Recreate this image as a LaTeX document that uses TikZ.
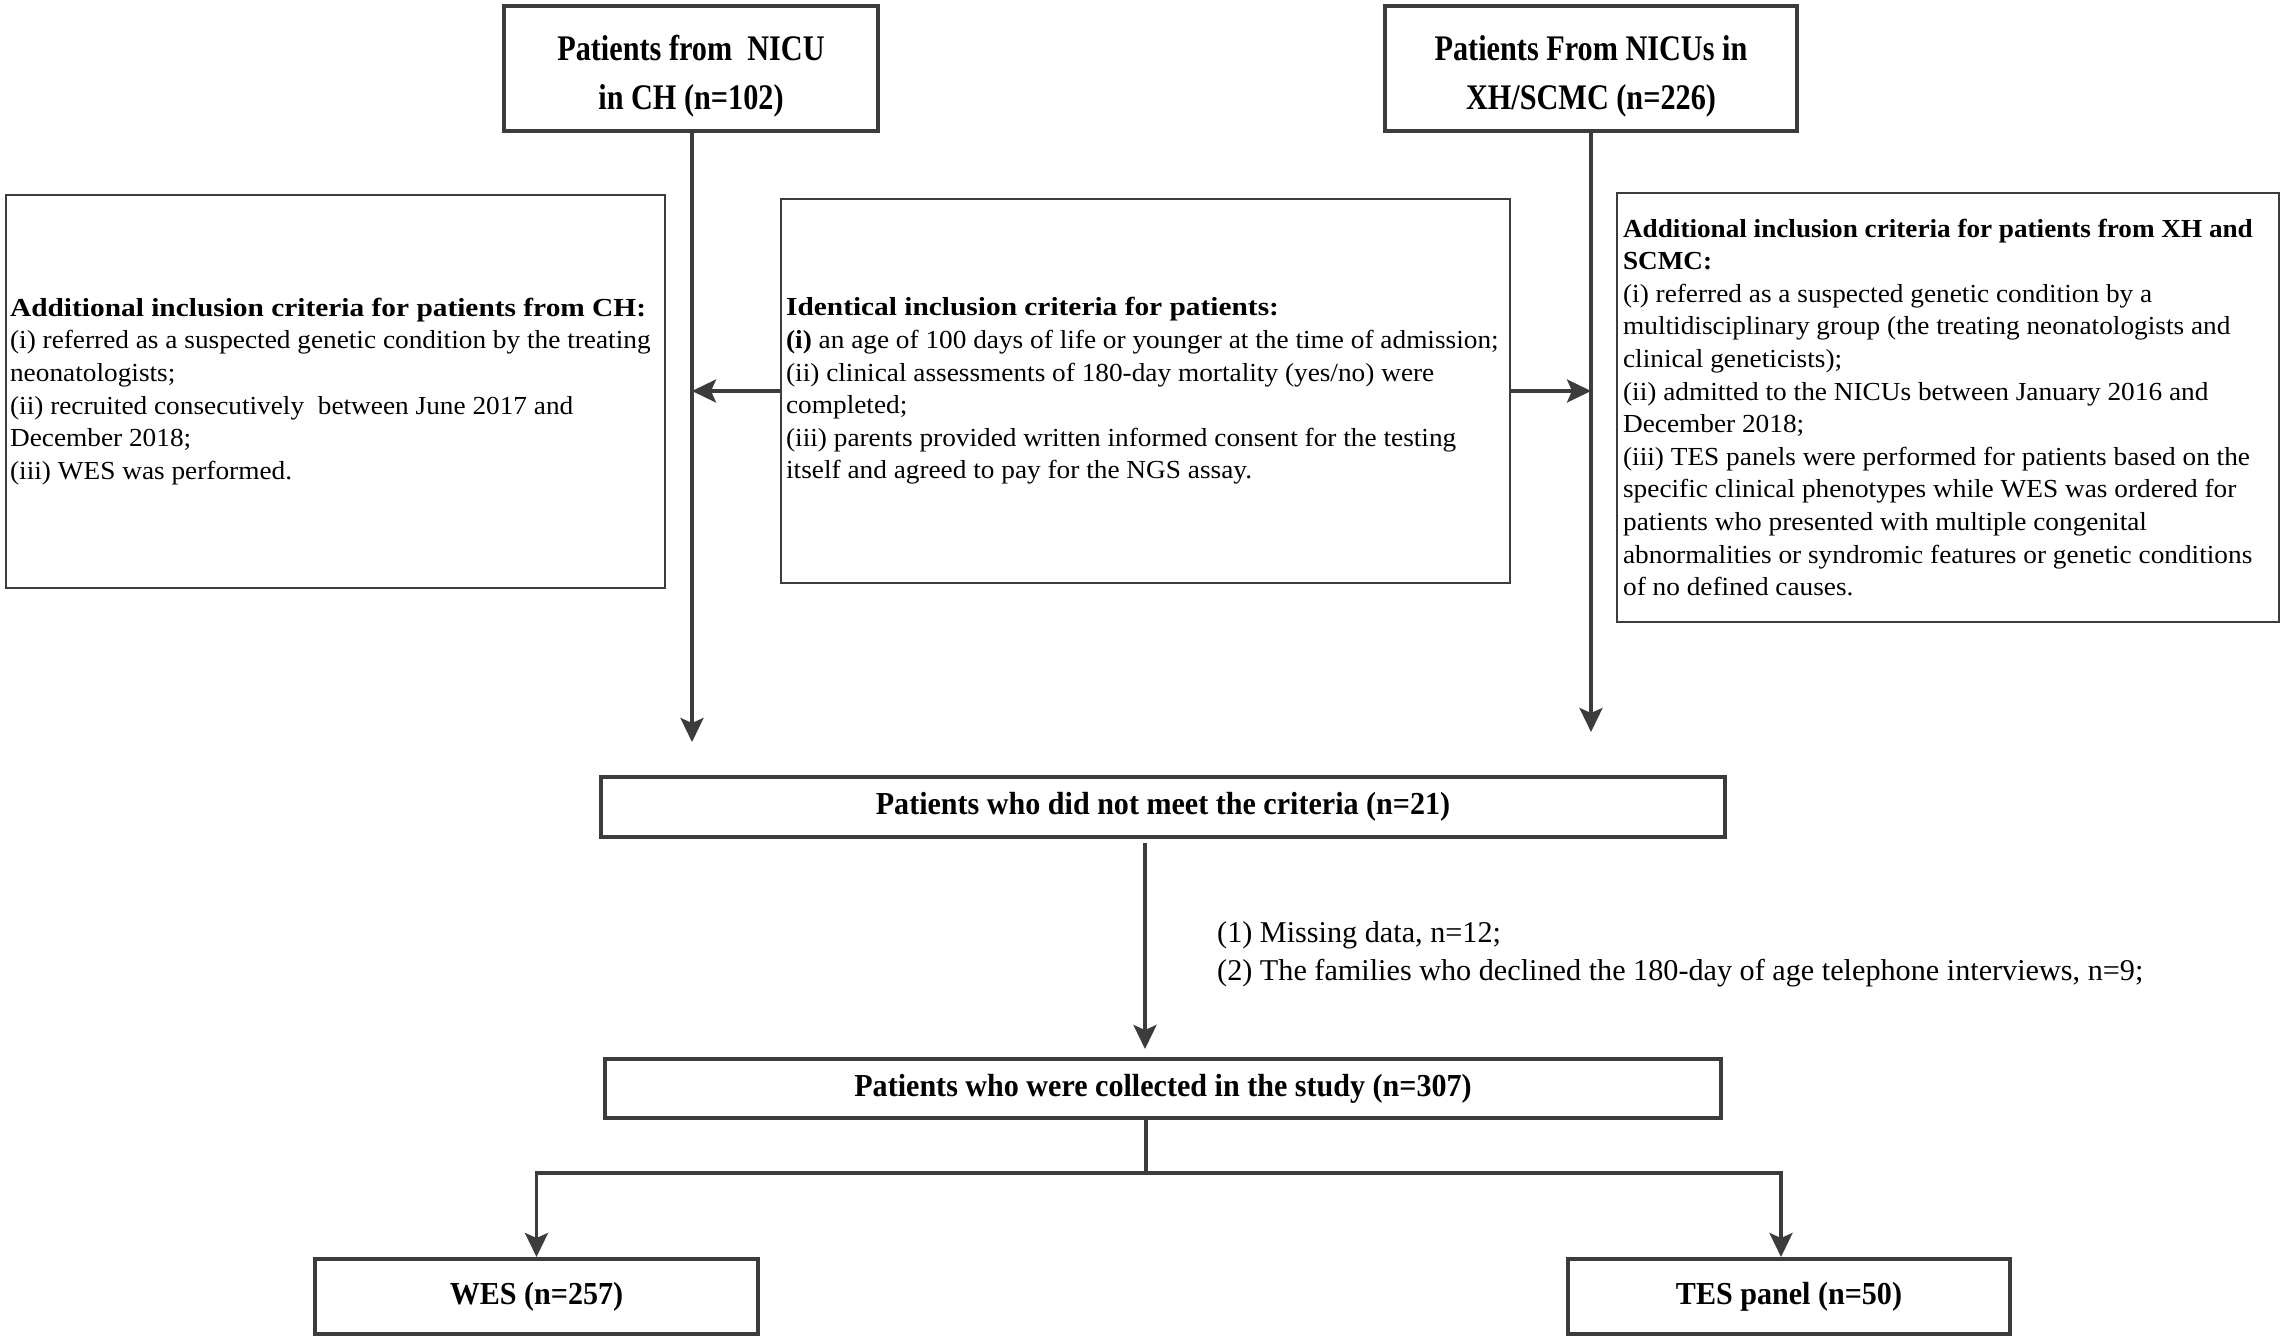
\documentclass[tikz,border=0pt]{standalone}
\usepackage{fontspec}
\setmainfont{Liberation Serif}
\newfontfamily\titlefam{Liberation Serif}[FakeStretch=0.84]
\newfontfamily\bottomfam{Liberation Serif}[FakeStretch=0.94]
\newfontfamily\headfam{Liberation Serif}[FakeStretch=1.13]
\newfontfamily\headfamb{Liberation Serif}[FakeStretch=1.045]
\newfontfamily\bodyfam{Liberation Serif}[FakeStretch=1.05]
\usetikzlibrary{arrows.meta}
\definecolor{linecol}{HTML}{3C3C3C}
\newcommand{\hd}[1]{{\headfam\bfseries #1}}
\newcommand{\hdb}[1]{{\headfamb\bfseries #1}}
\begin{document}
\begin{tikzpicture}[x=1pt,y=-1pt,
  every node/.style={text=black},
  mainbox/.style={draw=linecol, line width=4pt, inner sep=0pt},
  critbox/.style={draw=linecol, line width=2.2pt, inner sep=0pt},
  titlefont/.style={font=\titlefam\bfseries\fontsize{36}{49}\selectfont},
  bottomfont/.style={font=\bottomfam\bfseries\fontsize{32}{38}\selectfont},
  bodyfont/.style={font=\bodyfam\fontsize{26}{32.6}\selectfont},
  notefont/.style={font=\fontsize{30.2}{38}\selectfont},
  txt/.style={align=left, inner sep=0pt, anchor=west},
  conn/.style={draw=linecol, line width=3.6pt},
  arr/.style={conn, -{Stealth[length=24pt,width=23pt,inset=5pt]}},
]
\useasboundingbox (0,0) rectangle (2281,1340);

% top boxes
\node[mainbox, minimum width=374pt, minimum height=125pt] (ch) at (691,68.5) {};
\node[titlefont, align=center, inner sep=0pt] (cht) at ([yshift=-8pt]ch.center)
  {Patients from\ \ NICU\\in CH (n=102)};
\node[mainbox, minimum width=412pt, minimum height=125pt] (xh) at (1591,68.5) {};
\node[titlefont, align=center, inner sep=0pt] (xht) at ([yshift=-8pt]xh.center)
  {Patients From NICUs in\\XH/SCMC (n=226)};

% criteria boxes
\node[critbox, minimum width=659pt, minimum height=393pt] (leftc) at (335.5,391.5) {};
\node[txt, bodyfont] (leftt) at ([xshift=5pt]leftc.west)
  {\hd{Additional inclusion criteria for patients from CH:}\\
   (i) referred as a suspected genetic condition by the treating\\
   neonatologists;\\
   (ii) recruited consecutively\ \ between June 2017 and\\
   December 2018;\\
   (iii) WES was performed.};

\node[critbox, minimum width=729pt, minimum height=384pt] (midc) at (1145.5,391) {};
\node[txt, bodyfont] (midt) at ([xshift=6pt]midc.west)
  {\hd{Identical inclusion criteria for patients:}\\
   \textbf{(i)} an age of 100 days of life or younger at the time of admission;\\
   (ii) clinical assessments of 180-day mortality (yes/no) were\\
   completed;\\
   (iii) parents provided written informed consent for the testing\\
   itself and agreed to pay for the NGS assay.};

\node[critbox, minimum width=662pt, minimum height=429pt] (rightc) at (1948,407.5) {};
\node[txt, bodyfont] (rightt) at ([xshift=7pt]rightc.west)
  {\hdb{Additional inclusion criteria for patients from XH and}\\
   \hdb{SCMC:}\\
   (i) referred as a suspected genetic condition by a\\
   multidisciplinary group (the treating neonatologists and\\
   clinical geneticists);\\
   (ii) admitted to the NICUs between January 2016 and\\
   December 2018;\\
   (iii) TES panels were performed for patients based on the\\
   specific clinical phenotypes while WES was ordered for\\
   patients who presented with multiple congenital\\
   abnormalities or syndromic features or genetic conditions\\
   of no defined causes.};

% lower boxes
\node[mainbox, bottomfont, minimum width=1124pt, minimum height=60pt] (nomeet) at (1163,807)
  {Patients who did not meet the criteria (n=21)};
\node[mainbox, bottomfont, minimum width=1116pt, minimum height=59pt] (coll) at (1163,1088.5)
  {Patients who were collected in the study (n=307)};
\node[mainbox, bottomfont, minimum width=443pt, minimum height=75pt] (wes) at (536.5,1296.5)
  {WES (n=257)};
\node[mainbox, bottomfont, minimum width=442pt, minimum height=75pt] (tes) at (1789,1296.5)
  {TES panel (n=50)};

\node[txt, notefont] (excl) at (1217,954.5)
  {(1) Missing data, n=12;\\
   (2) The families who declined the 180-day of age telephone interviews, n=9;};

% connectors
\coordinate (chend) at (692,742);
\coordinate (xhend) at (1591,732);
\draw[arr] (ch.south -| chend) -- (chend);
\draw[arr] (xh.south -| xhend) -- (xhend);
\draw[arr] (midc.west) -- (midc.west -| chend);
\draw[arr] (midc.east) -- (midc.east -| xhend);
\draw[arr, shorten <=4pt, shorten >=8pt] ([xshift=-18pt]nomeet.south) -- ([xshift=-18pt]nomeet.south |- coll.north);
\draw[conn] ([xshift=-17pt]coll.south) -- ++(0,53) coordinate (split);
\draw[arr] (split) -| (wes.north);
\draw[arr] (split) -| ([xshift=-8pt]tes.north);
\end{tikzpicture}
\end{document}
